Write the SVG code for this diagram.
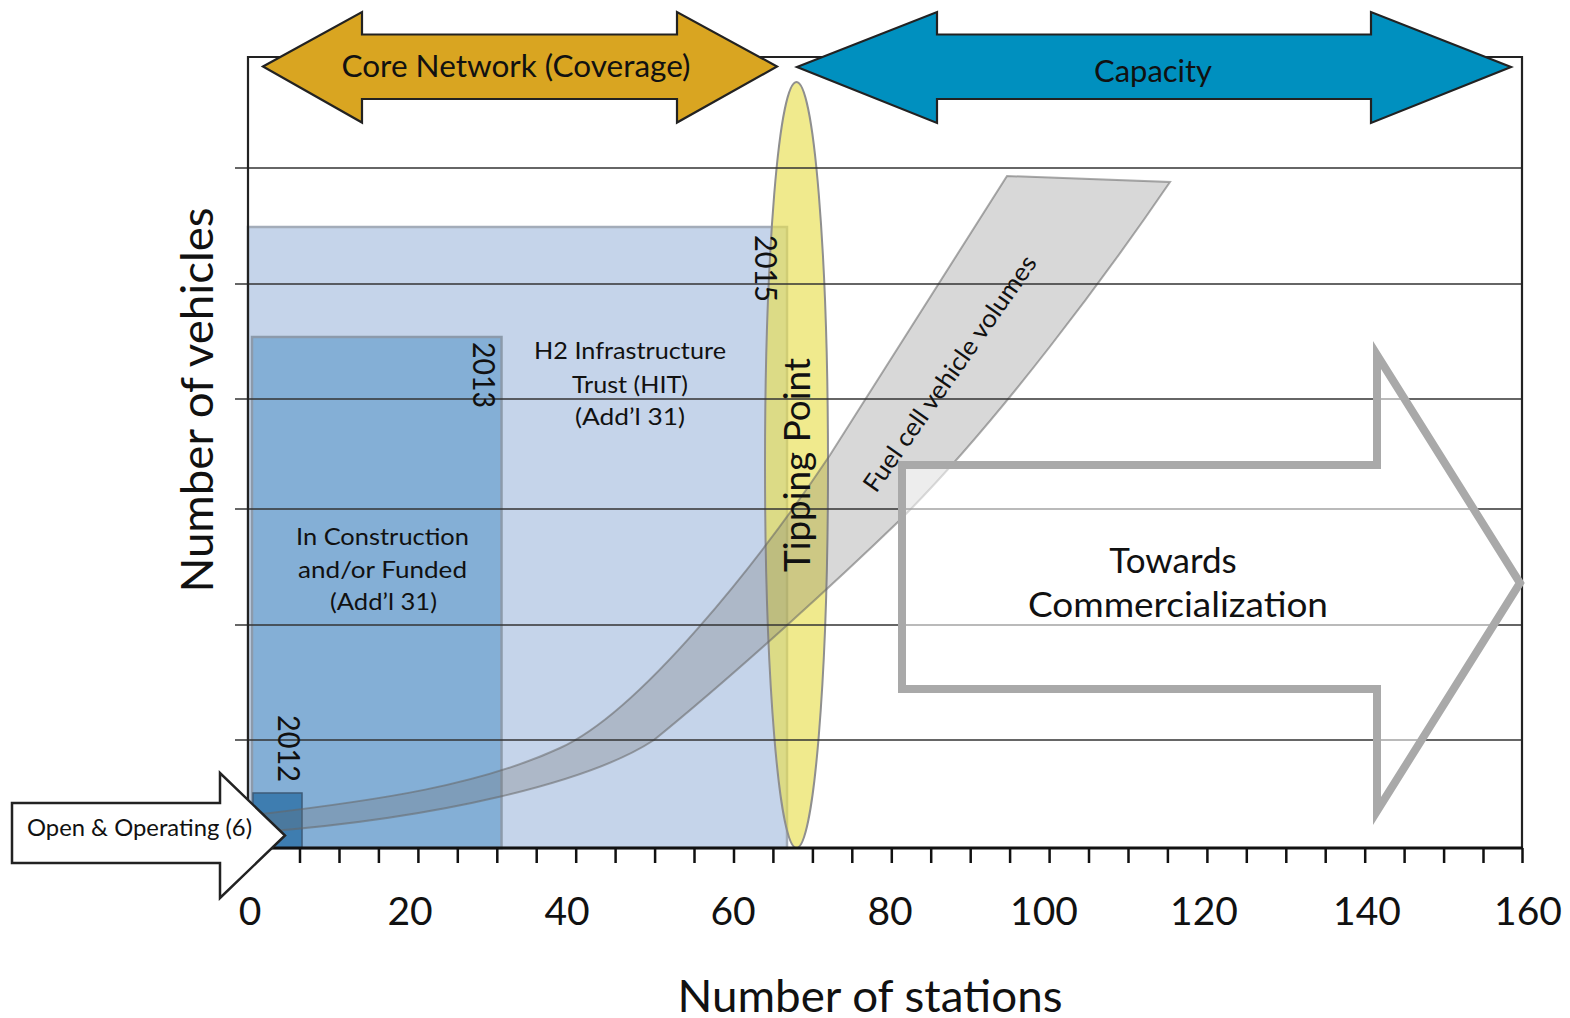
<svg xmlns="http://www.w3.org/2000/svg" width="1570" height="1018" viewBox="0 0 1570 1018">
<style>
  .t { font-family: Lato, "Liberation Sans", sans-serif; fill: #111; }
  .grid { stroke: #333; stroke-width: 1.6; fill: none; }
  .tick { stroke: #111; stroke-width: 2.5; fill: none; }
  .bigarrow { stroke: #222; stroke-width: 2.2; stroke-linejoin: miter; }
</style>
<rect x="0" y="0" width="1570" height="1018" fill="#ffffff"/>

<g id="hit-rect">
  <rect x="248" y="227" width="539" height="621" fill="#C5D4EA" stroke="#A3ACB9" stroke-width="2.5"/>
</g>
<g id="construction-rect">
  <rect x="252" y="337" width="249.5" height="511" fill="#84AFD6" stroke="#8C9AAB" stroke-width="2.5"/>
</g>
<g id="operating-rect">
  <rect x="253" y="793" width="49" height="55" fill="#3E7DB0" stroke="#3D5B78" stroke-width="1.5"/>
</g>

<g id="tipping-point">
  <ellipse cx="796.5" cy="465" rx="31.5" ry="383" fill="#E8DE50" fill-opacity="0.65" stroke="#8F8F8F" stroke-width="2"/>
</g>

<g id="fcv-band">
  <path d="M262,814 C380,800 480,785 560,748 C640,712 760,560 830,455 L1007,176 L1170,182 C1110,270 1000,420 900,520 C840,578 740,670 654,740 C590,782 440,818 261,832 Z" fill="#707070" fill-opacity="0.27" stroke="#666" stroke-opacity="0.55" stroke-width="2"/>
</g>

<g id="connectors">
  <g id="gridlines">
    <line class="grid" x1="235" y1="168" x2="1522" y2="168"/>
    <line class="grid" x1="235" y1="284" x2="1522" y2="284"/>
    <line class="grid" x1="235" y1="399" x2="1522" y2="399"/>
    <line class="grid" x1="235" y1="509" x2="1522" y2="509"/>
    <line class="grid" x1="235" y1="625" x2="1522" y2="625"/>
    <line class="grid" x1="235" y1="740" x2="1522" y2="740"/>
  </g>
  <g id="frame">
    <path d="M248,848 L248,57 L1522,57 L1522,848" fill="none" stroke="#222" stroke-width="2.2"/>
    <line x1="248" y1="848" x2="1523" y2="848" stroke="#111" stroke-width="3"/>
    <path class="tick" d="M300,848v15 M339.5,848v15 M378.9,848v15 M418.4,848v15 M457.8,848v15 M497.3,848v15 M536.7,848v15 M576.2,848v15 M615.6,848v15 M655.1,848v15 M694.5,848v15 M734,848v15 M773.4,848v15 M812.9,848v15 M852.3,848v15 M891.8,848v15 M931.2,848v15 M970.7,848v15 M1010.1,848v15 M1049.6,848v15 M1089,848v15 M1128.5,848v15 M1167.9,848v15 M1207.4,848v15 M1246.8,848v15 M1286.3,848v15 M1325.7,848v15 M1365.2,848v15 M1404.6,848v15 M1444.1,848v15 M1483.5,848v15 M1522.5,848v15"/>
  </g>
</g>

<g id="commercialization-arrow">
  <polygon points="902,465 1377,465 1377,355 1520,583 1377,811 1377,689 902,689" fill="#ffffff" fill-opacity="0.55" stroke="#A9A9A9" stroke-width="8" stroke-linejoin="miter"/>
  <text class="t" x="1173" y="573" font-size="35" text-anchor="middle">Towards</text>
  <text class="t" x="1178" y="617" font-size="35" text-anchor="middle" textLength="300" lengthAdjust="spacingAndGlyphs">Commercialization</text>
</g>

<g id="core-network-arrow">
  <polygon class="bigarrow" points="263,66.5 362,12 362,34.5 677,34.5 677,12 777,66.5 677,122.5 677,99 362,99 362,122.5" fill="#D9A521"/>
  <text class="t" x="516" y="77" font-size="30" text-anchor="middle" textLength="349" lengthAdjust="spacingAndGlyphs">Core Network (Coverage)</text>
</g>

<g id="capacity-arrow">
  <polygon class="bigarrow" points="797,67 937,12 937,34.5 1371,34.5 1371,12 1511,67 1371,123 1371,99 937,99 937,123" fill="#0090BF"/>
  <text class="t" x="1153" y="82" font-size="30" text-anchor="middle" textLength="118" lengthAdjust="spacingAndGlyphs">Capacity</text>
</g>

<g id="open-operating-arrow">
  <polygon points="12,803 220,803 220,773 285,835.5 220,898 220,863 12,863" fill="#ffffff" stroke="#222" stroke-width="2.5"/>
  <text class="t" x="139.5" y="836" font-size="23" text-anchor="middle" textLength="225" lengthAdjust="spacingAndGlyphs">Open &amp; Operating (6)</text>
</g>

<g id="labels">
  <text class="t" font-size="30" transform="translate(278,715) rotate(90)" textLength="67" lengthAdjust="spacingAndGlyphs">2012</text>
  <text class="t" font-size="30" transform="translate(473,342) rotate(90)" textLength="66" lengthAdjust="spacingAndGlyphs">2013</text>
  <text class="t" font-size="30" transform="translate(755,235) rotate(90)" textLength="67" lengthAdjust="spacingAndGlyphs">2015</text>

  <g font-size="24" text-anchor="middle">
    <text class="t" x="382.5" y="545" textLength="173" lengthAdjust="spacingAndGlyphs">In Construction</text>
    <text class="t" x="382.5" y="578" textLength="169" lengthAdjust="spacingAndGlyphs">and/or Funded</text>
    <text class="t" x="383.5" y="610" textLength="107" lengthAdjust="spacingAndGlyphs">(Add’l 31)</text>
  </g>
  <g font-size="24" text-anchor="middle">
    <text class="t" x="630" y="359" textLength="192" lengthAdjust="spacingAndGlyphs">H2 Infrastructure</text>
    <text class="t" x="630" y="393" textLength="116" lengthAdjust="spacingAndGlyphs">Trust (HIT)</text>
    <text class="t" x="630" y="425" textLength="110" lengthAdjust="spacingAndGlyphs">(Add’l 31)</text>
  </g>

  <text class="t" font-size="36" text-anchor="middle" transform="translate(810,465) rotate(-90)" textLength="214" lengthAdjust="spacingAndGlyphs">Tipping Point</text>
  <text class="t" font-size="25" transform="translate(876,494) rotate(-55)" textLength="282" lengthAdjust="spacingAndGlyphs">Fuel cell vehicle volumes</text>

  <text class="t" font-size="44" text-anchor="middle" transform="translate(213,400) rotate(-90)" textLength="385" lengthAdjust="spacingAndGlyphs">Number of vehicles</text>
  <text class="t" x="870" y="1012" font-size="44" text-anchor="middle" textLength="385" lengthAdjust="spacingAndGlyphs">Number of stations</text>

  <g font-size="39" text-anchor="middle">
    <text class="t" x="250" y="925">0</text>
    <text class="t" x="410" y="925">20</text>
    <text class="t" x="567" y="925">40</text>
    <text class="t" x="733" y="925">60</text>
    <text class="t" x="890" y="925">80</text>
    <text class="t" x="1044" y="925">100</text>
    <text class="t" x="1204" y="925">120</text>
    <text class="t" x="1367" y="925">140</text>
    <text class="t" x="1528" y="925">160</text>
  </g>
</g>
</svg>
